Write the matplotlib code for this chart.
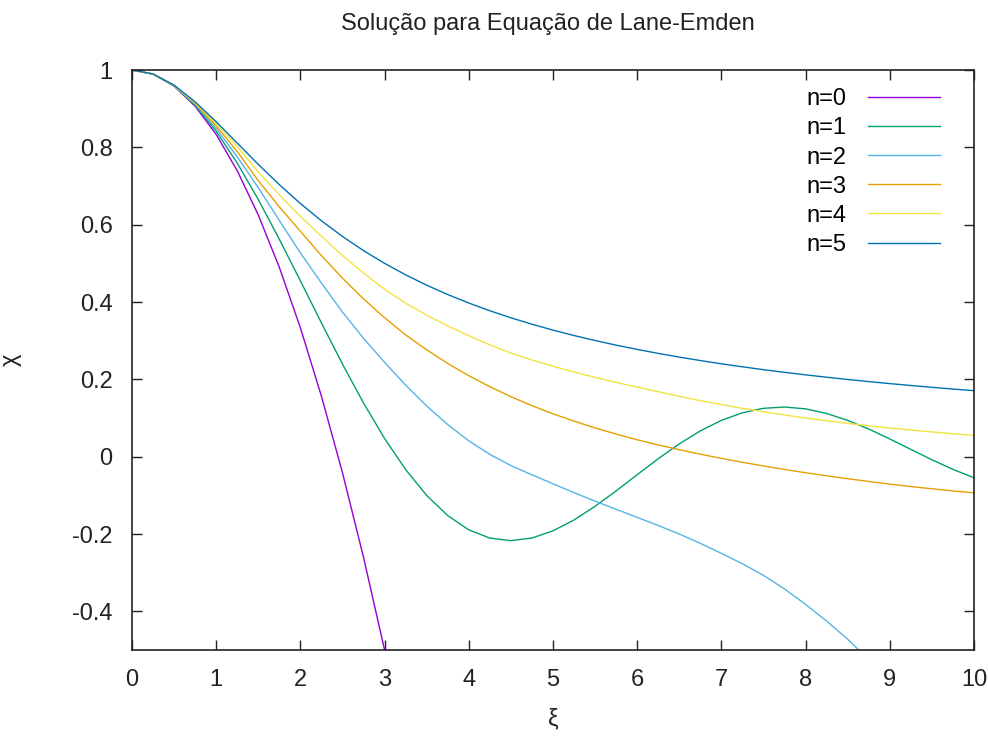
import matplotlib
matplotlib.use("Agg")
import matplotlib.pyplot as plt
from matplotlib.ticker import FormatStrFormatter, MultipleLocator

plt.rcParams["font.family"] = ["Liberation Sans", "DejaVu Sans"]
plt.rcParams["axes.unicode_minus"] = False

# ── data (xi, theta), step 0.25 ─────────────────────────────────────
xi = [0, 0.25, 0.5, 0.75, 1, 1.25, 1.5, 1.75, 2, 2.25, 2.5, 2.75, 3, 3.25,
      3.5, 3.75, 4, 4.25, 4.5, 4.75, 5, 5.25, 5.5, 5.75, 6, 6.25, 6.5,
      6.75, 7, 7.25, 7.5, 7.75, 8, 8.25, 8.5, 8.75, 9, 9.25, 9.5, 9.75, 10]

theta_n0 = [1, 0.9896, 0.9583, 0.9063, 0.8333, 0.7396, 0.625, 0.4896, 0.3333,
            0.1563, -0.0417, -0.2604, -0.5, -0.7604]
theta_n1 = [1, 0.9896, 0.9589, 0.9089, 0.8415, 0.7592, 0.6650, 0.5623, 0.4547,
            0.3458, 0.2394, 0.1388, 0.0470, -0.0333, -0.1002, -0.1524, -0.1892,
            -0.2106, -0.2172, -0.2104, -0.1918, -0.1636, -0.1283, -0.0885,
            -0.0466, -0.0053, 0.0331, 0.0667, 0.0939, 0.1135, 0.1251, 0.1284,
            0.1237, 0.1118, 0.0939, 0.0716, 0.0458, 0.0189, -0.0079, -0.0328,
            -0.0544]
theta_n2 = [1, 0.9897, 0.9593, 0.9113, 0.8485, 0.7754, 0.6955, 0.611, 0.527,
            0.449, 0.374, 0.306, 0.244, 0.185, 0.131, 0.083, 0.041, 0.006,
            -0.023, -0.047, -0.070, -0.093, -0.115, -0.136, -0.157, -0.178,
            -0.200, -0.224, -0.250, -0.277, -0.307, -0.342, -0.382, -0.425,
            -0.472, -0.525, -0.58]
theta_n3 = [1, 0.9897, 0.9598, 0.9135, 0.8551, 0.7892, 0.7137, 0.646, 0.5829,
            0.520, 0.4616, 0.408, 0.3592, 0.315, 0.2763, 0.241, 0.2093, 0.181,
            0.1551, 0.132, 0.1108, 0.092, 0.0743, 0.0585, 0.0437, 0.0303,
            0.0181, 0.0065, -0.0044, -0.0145, -0.0240, -0.0330, -0.0415,
            -0.0495, -0.0570, -0.0640, -0.0710, -0.0772, -0.0830, -0.0885,
            -0.0935]
theta_n4 = [1, 0.9897, 0.9603, 0.9155, 0.8608, 0.802, 0.736, 0.677, 0.622,
            0.570, 0.520, 0.475, 0.433, 0.397, 0.366, 0.338, 0.313, 0.289,
            0.268, 0.250, 0.234, 0.219, 0.205, 0.192, 0.180, 0.168, 0.156,
            0.145, 0.135, 0.125, 0.116, 0.108, 0.100, 0.093, 0.086, 0.080,
            0.074, 0.069, 0.064, 0.0595, 0.055]
theta_n5 = [1, 0.9897, 0.9608, 0.9177, 0.8660, 0.8109, 0.7559, 0.7035, 0.6547,
            0.6100, 0.5695, 0.5329, 0.5, 0.4703, 0.4435, 0.4193, 0.3974, 0.3774,
            0.3592, 0.3426, 0.3273, 0.3133, 0.3004, 0.2884, 0.2774, 0.2671,
            0.2575, 0.2486, 0.2402, 0.2324, 0.2250, 0.2181, 0.2116, 0.2055,
            0.1997, 0.1942, 0.1890, 0.1841, 0.1794, 0.1749, 0.1707]

labels = ["n=0", "n=1", "n=2", "n=3", "n=4", "n=5"]
curves = [theta_n0, theta_n1, theta_n2, theta_n3, theta_n4, theta_n5]
colors = ["#9400d3", "#009e73", "#56b4e9", "#e69f00", "#f0e442", "#0072b2"]

fig = plt.figure(figsize=(9.88, 7.4), dpi=100)
ax = fig.add_axes([0.1336, 0.1216, 0.8522, 0.7838])

for lab, ys, col in zip(labels, curves, colors):
    ax.plot(xi[:len(ys)], ys, color=col, lw=1.0, label=lab)

ax.set_xlim(0, 10)
ax.set_ylim(-0.5, 1)
ax.xaxis.set_major_locator(MultipleLocator(1))
ax.yaxis.set_major_locator(MultipleLocator(0.2))
ax.yaxis.set_major_formatter(FormatStrFormatter("%g"))
ax.tick_params(direction="in", length=7, width=1, top=True, right=True,
               labelsize=17, colors="#222222")
ax.tick_params(axis="y", pad=14)
ax.tick_params(axis="x", pad=14)
for s in ax.spines.values():
    s.set_linewidth(1.2)
    s.set_color("#222222")

ax.set_xlabel("ξ", fontsize=17, labelpad=12, color="#222222")
ax.set_ylabel("χ", fontsize=17, labelpad=36, color="#222222")
fig.suptitle("Solução para Equação de Lane-Emden", x=0.555, y=0.982,
             fontsize=17, color="#222222")

ax.legend(loc="upper right", bbox_to_anchor=(0.985, 1.005), frameon=False,
          markerfirst=False, fontsize=17, handlelength=3.05, labelspacing=0.3,
          handletextpad=0.9)

fig.savefig("out.png", dpi=100)
